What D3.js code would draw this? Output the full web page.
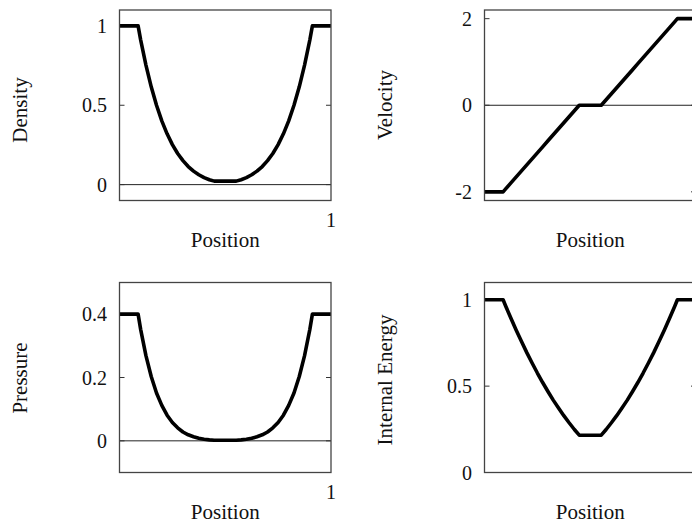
<!DOCTYPE html>
<html>
<head>
<meta charset="utf-8">
<script src="https://cdn.jsdelivr.net/npm/d3@7"></script>
<style>
  html, body { margin: 0; padding: 0; background: #fff; }
  svg { display: block; }
  text { font-family: "Liberation Serif", "DejaVu Serif", serif; fill: #111; }
</style>
</head>
<body>
<svg id="chart" width="692" height="524"></svg>
<script>
// Sampled profiles along the tube (position 0..1)
const position = [0, 0.088, 0.1, 0.125, 0.15, 0.175, 0.2, 0.225, 0.25, 0.275, 0.3, 0.325, 0.35, 0.375, 0.4, 0.425, 0.448,
                  0.552, 0.575, 0.6, 0.625, 0.65, 0.675, 0.7, 0.725, 0.75, 0.775, 0.8, 0.825, 0.85, 0.875, 0.9, 0.912, 1];

const density = [1, 1, 0.912, 0.753, 0.616, 0.500, 0.402, 0.320, 0.252, 0.196, 0.151, 0.114, 0.085, 0.062, 0.044, 0.031, 0.022,
                 0.022, 0.031, 0.044, 0.062, 0.085, 0.114, 0.151, 0.196, 0.252, 0.320, 0.402, 0.500, 0.616, 0.753, 0.912, 1, 1];

const velocity = [-2, -2, -1.932, -1.793, -1.654, -1.516, -1.377, -1.238, -1.099, -0.960, -0.821, -0.682, -0.543, -0.404, -0.266, -0.127, 0,
                  0, 0.127, 0.266, 0.404, 0.543, 0.682, 0.821, 0.960, 1.099, 1.238, 1.377, 1.516, 1.654, 1.793, 1.932, 2, 2];

const pressure = [0.4, 0.4, 0.352, 0.269, 0.203, 0.151, 0.112, 0.081, 0.058, 0.041, 0.028, 0.019, 0.013, 0.008, 0.005, 0.003, 0.002,
                  0.002, 0.003, 0.005, 0.008, 0.013, 0.019, 0.028, 0.041, 0.058, 0.081, 0.112, 0.151, 0.203, 0.269, 0.352, 0.4, 0.4];

const internalEnergy = [1, 1, 0.964, 0.893, 0.824, 0.758, 0.694, 0.634, 0.576, 0.521, 0.469, 0.419, 0.373, 0.329, 0.288, 0.249, 0.216,
                        0.216, 0.249, 0.288, 0.329, 0.373, 0.419, 0.469, 0.521, 0.576, 0.634, 0.694, 0.758, 0.824, 0.893, 0.964, 1, 1];

// Axis ticks
const densityTicks = [0, 0.5, 1];
const velocityTicks = [-2, 0, 2];
const pressureTicks = [0, 0.2, 0.4];
const energyTicks = [0, 0.5, 1];
const positionTicks = [1];

const panels = [
  { label: "Density", values: density, ticks: densityTicks, domain: [-0.1, 1.1],
    left: 119.5, top: 10, width: 211.5, height: 190.5, labelX: 26.5, labelY: 110 },
  { label: "Velocity", values: velocity, ticks: velocityTicks, domain: [-2.2, 2.2],
    left: 484.5, top: 10, width: 211.5, height: 190.5, labelX: 391.5, labelY: 105 },
  { label: "Pressure", values: pressure, ticks: pressureTicks, domain: [-0.1, 0.5],
    left: 119.5, top: 282.5, width: 211.5, height: 190, labelX: 27, labelY: 378 },
  { label: "Internal Energy", values: internalEnergy, ticks: energyTicks, domain: [0, 1.1],
    left: 484.5, top: 282.5, width: 211.5, height: 190, labelX: 391.5, labelY: 380 }
];

const svg = d3.select("#chart");
const fmt = d => String(d).replace(/^(-?)0?\./, "$10.");

panels.forEach(p => {
  const x = d3.scaleLinear().domain([0, 1]).range([p.left, p.left + p.width]);
  const y = d3.scaleLinear().domain(p.domain).range([p.top + p.height, p.top]);
  const g = svg.append("g");

  // zero reference line
  if (p.domain[0] < 0 && p.domain[1] > 0) {
    g.append("line")
      .attr("x1", x(0)).attr("x2", x(1))
      .attr("y1", y(0)).attr("y2", y(0))
      .attr("stroke", "#222").attr("stroke-width", 1);
  }

  // inward tick marks on both vertical edges
  p.ticks.forEach(t => {
    g.append("line").attr("x1", x(0)).attr("x2", x(0) + 5)
      .attr("y1", y(t)).attr("y2", y(t)).attr("stroke", "#333").attr("stroke-width", 1);
    g.append("line").attr("x1", x(1)).attr("x2", x(1) - 5)
      .attr("y1", y(t)).attr("y2", y(t)).attr("stroke", "#333").attr("stroke-width", 1);
    g.append("text")
      .attr("x", x(0) - 12.5).attr("y", y(t) + 7)
      .attr("text-anchor", "end").attr("font-size", 20)
      .text(fmt(t));
  });

  // x tick labels
  positionTicks.forEach(t => {
    g.append("text")
      .attr("x", x(t)).attr("y", p.top + p.height + 26)
      .attr("text-anchor", "middle").attr("font-size", 20)
      .text(t);
  });

  // the profile
  const line = d3.line().x((d, i) => x(position[i])).y(d => y(d)).curve(d3.curveLinear);
  g.append("path")
    .datum(p.values)
    .attr("d", line)
    .attr("fill", "none")
    .attr("stroke", "#000")
    .attr("stroke-width", 3.6)
    .attr("stroke-linejoin", "round");

  // frame
  g.append("rect")
    .attr("x", p.left).attr("y", p.top)
    .attr("width", p.width).attr("height", p.height)
    .attr("fill", "none").attr("stroke", "#444").attr("stroke-width", 1.3);

  // axis titles
  g.append("text")
    .attr("x", p.left + p.width / 2).attr("y", p.top + p.height + 46)
    .attr("text-anchor", "middle").attr("font-size", 21)
    .text("Position");

  g.append("text")
    .attr("transform", `translate(${p.labelX},${p.labelY}) rotate(-90)`)
    .attr("text-anchor", "middle").attr("font-size", 21)
    .text(p.label);
});
</script>
</body>
</html>
